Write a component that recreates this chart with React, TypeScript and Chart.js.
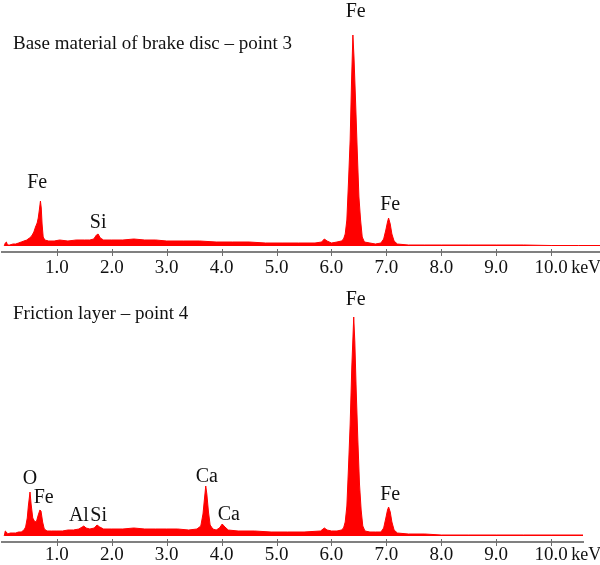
import React, { useEffect, useRef } from "react";
import { Chart, registerables } from "chart.js";

Chart.register(...registerables);

// ---------- data ----------
const tickValues = [1, 2, 3, 4, 5, 6, 7, 8, 9, 10];
const tickLabels = ["1.0", "2.0", "3.0", "4.0", "5.0", "6.0", "7.0", "8.0", "9.0", "10.0"];
const unitLabel = "keV";

const titleTop = "Base material of brake disc \u2013 point 3";
const titleBottom = "Friction layer \u2013 point 4";

// spectrum 1: base material (energy keV, intensity a.u.)
const energyTop = [
  0.04, 0.06, 0.08, 0.1, 0.14, 0.2, 0.25, 0.3, 0.35, 0.4, 0.45, 0.5, 0.54, 0.58, 0.61, 0.64, 0.66, 0.68, 0.7, 0.715,
  0.73, 0.75, 0.78, 0.85, 0.95, 1.05, 1.2, 1.35, 1.5, 1.6, 1.67, 1.72, 1.75, 1.79, 1.85, 2.0, 2.2, 2.4, 2.6, 2.8,
  3.0, 3.3, 3.6, 3.9, 4.2, 4.5, 4.8, 5.1, 5.4, 5.7, 5.82, 5.87, 5.92, 6.0, 6.1, 6.18, 6.22, 6.25, 6.28, 6.31,
  6.34, 6.365, 6.39, 6.41, 6.44, 6.47, 6.5, 6.53, 6.56, 6.6, 6.7, 6.8, 6.9, 6.95, 6.99, 7.02, 7.04, 7.07, 7.1, 7.14,
  7.2, 7.4, 7.7, 8.0, 8.5, 9.0, 9.5, 10.0, 10.5, 10.89,
];
const countsTop = [
  0, 3, 4, 1, 1, 2, 2, 3, 4, 5, 6, 8, 10, 14, 19, 23, 28, 36, 45, 38,
  22, 9, 6, 5, 5, 6, 5, 6, 6, 6, 7, 11, 12, 8, 6, 6, 6, 7, 6, 6,
  5, 5, 5, 4, 4, 4, 3, 3, 3, 3, 4, 7, 5, 3, 4, 5, 7, 12, 26, 64,
  106, 164, 211, 189, 143, 94, 49, 26, 9, 4, 3, 2, 3, 7, 16, 24, 28, 22, 12, 5,
  2, 1, 1, 1, 1, 1, 1, 0.5, 0.5, 0.5,
];

// spectrum 2: friction layer
const energyBottom = [
  0.04, 0.06, 0.08, 0.1, 0.15, 0.2, 0.25, 0.3, 0.35, 0.4, 0.43, 0.46, 0.48, 0.51, 0.53, 0.56, 0.6, 0.63, 0.66, 0.69,
  0.71, 0.74, 0.77, 0.82, 0.9, 1.0, 1.1, 1.2, 1.3, 1.4, 1.46, 1.49, 1.53, 1.6, 1.68, 1.73, 1.78, 1.85, 2.0, 2.2,
  2.4, 2.6, 2.8, 3.0, 3.2, 3.4, 3.55, 3.62, 3.66, 3.69, 3.71, 3.73, 3.76, 3.79, 3.84, 3.9, 3.96, 4.01, 4.06, 4.12,
  4.3, 4.6, 4.9, 5.2, 5.5, 5.8, 5.87, 5.92, 6.0, 6.1, 6.18, 6.22, 6.25, 6.28, 6.31, 6.34, 6.37, 6.405, 6.425, 6.45,
  6.48, 6.51, 6.54, 6.57, 6.61, 6.7, 6.8, 6.9, 6.95, 6.99, 7.02, 7.04, 7.07, 7.1, 7.14, 7.2, 7.4, 7.7, 8.0, 8.5,
  9.0, 9.5, 10.0, 10.58,
];
const countsBottom = [
  0, 5, 4, 2, 3, 3, 3, 4, 4, 6, 9, 18, 30, 44, 32, 18, 14, 15, 21, 26,
  25, 14, 7, 5, 5, 5, 5, 6, 6, 7, 9, 10, 8, 7, 8, 11, 9, 7, 7, 7,
  8, 7, 7, 7, 7, 6, 7, 10, 22, 39, 50, 42, 24, 11, 7, 6, 8, 12, 9, 6,
  5, 5, 4, 4, 4, 5, 8, 6, 5, 5, 6, 8, 14, 30, 69, 112, 169, 219, 194, 146,
  96, 52, 26, 10, 5, 4, 4, 4, 8, 18, 26, 29, 24, 14, 6, 3, 2, 2, 1, 1,
  1, 1, 1, 1,
];

// peak labels
const peakNamesTop = ["Fe", "Si", "Fe", "Fe"];
const peakEnergyTop = [0.64, 1.75, 6.44, 7.07];
const peakLabelHeightTop = [58, 18, 229, 36];

const peakNamesBottom = ["O", "Fe", "Al", "Si", "Ca", "Ca", "Fe", "Fe"];
const peakEnergyBottom = [0.51, 0.76, 1.4, 1.76, 3.73, 4.13, 6.44, 7.07];
const peakLabelHeightBottom = [52, 33, 15, 15, 54, 16, 231, 36];

// ---------- style ----------
const RED = "#ff0000";
const AXIS = "#808080";
const TEXT = "#111111";
const SERIF = '"Liberation Serif", "Times New Roman", serif';
const TICK_FONT = 19;

type PanelProps = {
  top: number;
  height: number;
  energies: number[];
  counts: number[];
  xMax: number;
  yMin: number;
  yMax: number;
  title: string;
  names: string[];
  peakE: number[];
  peakH: number[];
  tickPad: number;
  padding: { left: number; right: number; top: number; bottom: number };
};

const annotPlugin = {
  id: "annot",
  afterDatasetsDraw(chart: any, _args: any, opts: any) {
    const { ctx, chartArea } = chart;
    const x = chart.scales.x;
    const y = chart.scales.y;
    ctx.save();
    // tick marks crossing the axis
    ctx.strokeStyle = "#6e6e6e";
    ctx.lineWidth = 1;
    const yb = chartArea.bottom;
    tickValues.forEach((v) => {
      const px = Math.round(x.getPixelForValue(v)) + 0.5;
      ctx.beginPath();
      ctx.moveTo(px, yb - 3);
      ctx.lineTo(px, yb + 4);
      ctx.stroke();
    });
    // title
    ctx.fillStyle = TEXT;
    ctx.font = `19px ${SERIF}`;
    ctx.textAlign = "left";
    ctx.textBaseline = "alphabetic";
    ctx.fillText(opts.title, chartArea.left + 11, chartArea.top + 49);
    // peak labels
    ctx.font = `20px ${SERIF}`;
    ctx.textAlign = "center";
    opts.names.forEach((n: string, i: number) => {
      ctx.fillText(n, x.getPixelForValue(opts.peakE[i]), y.getPixelForValue(opts.peakH[i]));
    });
    // unit label after the last tick
    ctx.font = `18px ${SERIF}`;
    ctx.textAlign = "left";
    ctx.textBaseline = "middle";
    const lastTick = tickValues[tickValues.length - 1];
    ctx.fillText(unitLabel, x.getPixelForValue(lastTick) + 20, yb + opts.tickPad + TICK_FONT * 0.6);
    ctx.restore();
  },
};

function Panel(p: PanelProps) {
  const ref = useRef<HTMLCanvasElement | null>(null);
  useEffect(() => {
    if (!ref.current) return;
    const chart = new Chart(ref.current, {
      type: "line",
      data: {
        datasets: [
          {
            data: p.energies.map((e, i) => ({ x: e, y: p.counts[i] })),
            borderColor: RED,
            backgroundColor: RED,
            borderWidth: 1,
            fill: "origin",
            pointRadius: 0,
            tension: 0,
          },
        ],
      },
      options: {
        responsive: false,
        maintainAspectRatio: false,
        animation: false,
        devicePixelRatio: 1,
        layout: { padding: p.padding, autoPadding: false },
        plugins: {
          legend: { display: false },
          tooltip: { enabled: false },
          annot: {
            title: p.title,
            names: p.names,
            peakE: p.peakE,
            peakH: p.peakH,
            tickPad: p.tickPad,
          },
        } as any,
        scales: {
          x: {
            type: "linear",
            min: 0,
            max: p.xMax,
            afterBuildTicks: (scale: any) => {
              scale.ticks = tickValues.map((v) => ({ value: v }));
            },
            ticks: {
              autoSkip: false,
              maxRotation: 0,
              padding: p.tickPad,
              color: TEXT,
              font: { family: SERIF, size: TICK_FONT },
              callback: (value: any) => {
                const i = tickValues.indexOf(Number(value));
                return i >= 0 ? tickLabels[i] : "";
              },
            },
            grid: { display: false, drawTicks: false, tickLength: 0 },
            border: { display: true, color: AXIS, width: 2 },
          },
          y: {
            display: false,
            min: p.yMin,
            max: p.yMax,
          },
        },
      },
      plugins: [annotPlugin],
    });
    return () => chart.destroy();
  }, []);
  return (
    <canvas
      ref={ref}
      width={600}
      height={p.height}
      style={{ position: "absolute", left: 0, top: p.top, width: 600, height: p.height }}
    />
  );
}

export default function App() {
  return (
    <div
      style={{
        position: "fixed",
        left: 0,
        top: 0,
        width: 600,
        height: 565,
        overflow: "hidden",
        background: "#ffffff",
      }}
    >
      <Panel
        top={0}
        height={300}
        energies={energyTop}
        counts={countsTop}
        xMax={10.89}
        yMin={-6}
        yMax={246}
        title={titleTop}
        names={peakNamesTop}
        peakE={peakEnergyTop}
        peakH={peakLabelHeightTop}
        tickPad={4.6}
        padding={{ left: 2, right: 0, top: 0, bottom: 16 }}
      />
      <Panel
        top={270}
        height={300}
        energies={energyBottom}
        counts={countsBottom}
        xMax={10.58}
        yMin={-6}
        yMax={266}
        title={titleBottom}
        names={peakNamesBottom}
        peakE={peakEnergyBottom}
        peakH={peakLabelHeightBottom}
        tickPad={1.6}
        padding={{ left: 2, right: 17, top: 0, bottom: 2 }}
      />
    </div>
  );
}
